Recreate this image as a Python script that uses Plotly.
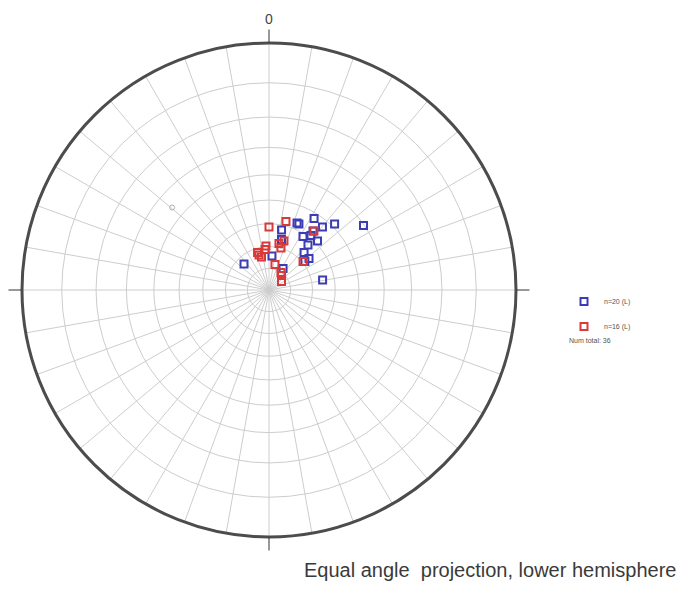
import numpy as np
import plotly.graph_objects as go

# Lineations, set 1 (blue): trend / plunge in degrees
blue_trend = [32.2, 24.4, 44.8, 55.7, 40.3, 11.8, 32.4, 37.6, 13.9, 40.9,
              44.7, 43.0, 5.0, 51.8, 316.1, 33.1, 79.4, 36.7, 22.7, 51.6]
blue_plunge = [52.2, 57.3, 48.7, 40.3, 53.0, 62.1, 61.2, 58.9, 66.2, 62.9,
               58.8, 66.5, 74.3, 66.7, 73.4, 78.1, 65.1, 56.8, 57.2, 69.0]

# Lineations, set 2 (red): trend / plunge in degrees
red_trend = [13.9, 0.0, 37.3, 17.0, 356.1, 343.0, 347.2, 15.9, 13.2, 55.8,
             40.8, 50.0, 344.1, 12.1, 354.4, 34.4]
red_plunge = [58.1, 61.4, 56.6, 66.6, 69.7, 72.0, 74.4, 69.9, 77.9, 83.0,
              81.1, 69.6, 73.2, 68.2, 71.3, 80.2]

# faint reference mark
ref_trend = [310.4]
ref_plunge = [35.5]

legend_names = ["n=20 (L)", "n=16 (L)"]
total_label = "Num total: 36"
caption = "Equal angle  projection, lower hemisphere"

# grid: small circles every 10 degrees of plunge, great-circle spokes every 10 degrees
grid_plunges = list(range(10, 90, 10))
grid_trends = list(range(0, 360, 10))


def stereo_r(plunge):
    """Equal-angle (stereographic) radius for a lower-hemisphere line."""
    p = np.asarray(plunge, dtype=float)
    return np.tan(np.radians((90.0 - p) / 2.0))


BLUE = "#3c3cb4"
RED = "#d83a3a"
FONT = "Liberation Sans, Arial, sans-serif"

fig = go.Figure()

fig.add_trace(go.Scatterpolar(
    r=stereo_r(blue_plunge), theta=blue_trend, mode="markers",
    name=legend_names[0], legendgroup="a",
    marker=dict(symbol="square-open", size=7, color=BLUE, line=dict(width=2, color=BLUE)),
))
fig.add_trace(go.Scatterpolar(
    r=stereo_r(red_plunge), theta=red_trend, mode="markers",
    name=legend_names[1], legendgroup="b",
    marker=dict(symbol="square-open", size=7, color=RED, line=dict(width=2, color=RED)),
))
fig.add_trace(go.Scatterpolar(
    r=stereo_r(ref_plunge), theta=ref_trend, mode="markers", showlegend=False,
    marker=dict(symbol="circle-open", size=5, color="#b0b0b0", line=dict(width=1, color="#b0b0b0")),
))
# empty trace that carries the cardinal tick overlay
fig.add_trace(go.Scatterpolar(r=[], theta=[], subplot="polar2", showlegend=False))

dom_x = [22 / 678, 516 / 678]
dom_y = [1 - 538 / 592, 1 - 42 / 592]

fig.update_layout(
    width=678, height=592,
    margin=dict(l=0, r=0, t=0, b=0),
    paper_bgcolor="white",
    font=dict(family=FONT, color="#444444"),
    polar=dict(
        domain=dict(x=dom_x, y=dom_y),
        bgcolor="white",
        radialaxis=dict(range=[0, 1], tickvals=list(stereo_r(grid_plunges)),
                        showticklabels=False, ticks="", showline=False,
                        showgrid=True, gridcolor="#cdcdcd", gridwidth=1),
        angularaxis=dict(direction="clockwise", rotation=90,
                         tickvals=grid_trends, showticklabels=False, ticks="",
                         showgrid=True, gridcolor="#cdcdcd", gridwidth=1,
                         showline=True, linecolor="#4c4c4c", linewidth=3),
    ),
    polar2=dict(
        domain=dict(x=dom_x, y=dom_y),
        bgcolor="rgba(0,0,0,0)",
        radialaxis=dict(visible=False, range=[0, 1]),
        angularaxis=dict(direction="clockwise", rotation=90,
                         tickvals=[0, 90, 180, 270], ticktext=["0", "", "", ""],
                         ticks="outside", ticklen=13, tickwidth=1, tickcolor="#333333",
                         showgrid=False, showline=False,
                         tickfont=dict(family=FONT, size=14, color="#444444")),
    ),
    legend=dict(x=564 / 678, y=1 - 287 / 592, xanchor="left", yanchor="top",
                font=dict(family=FONT, size=7, color="#555555"),
                traceorder="grouped", tracegroupgap=6,
                itemwidth=30, bgcolor="rgba(0,0,0,0)"),
    annotations=[
        dict(text=total_label, x=567 / 678, y=1 - 340 / 592, xref="paper", yref="paper",
             xanchor="left", yanchor="middle", showarrow=False,
             font=dict(family=FONT, size=7, color="#555555")),
        dict(text=caption, x=1.0, y=1 - 570 / 592, xref="paper", yref="paper",
             xanchor="right", yanchor="middle", showarrow=False,
             font=dict(family=FONT, size=20, color="#3a3a3a")),
    ],
)

fig.write_html("out.html")
